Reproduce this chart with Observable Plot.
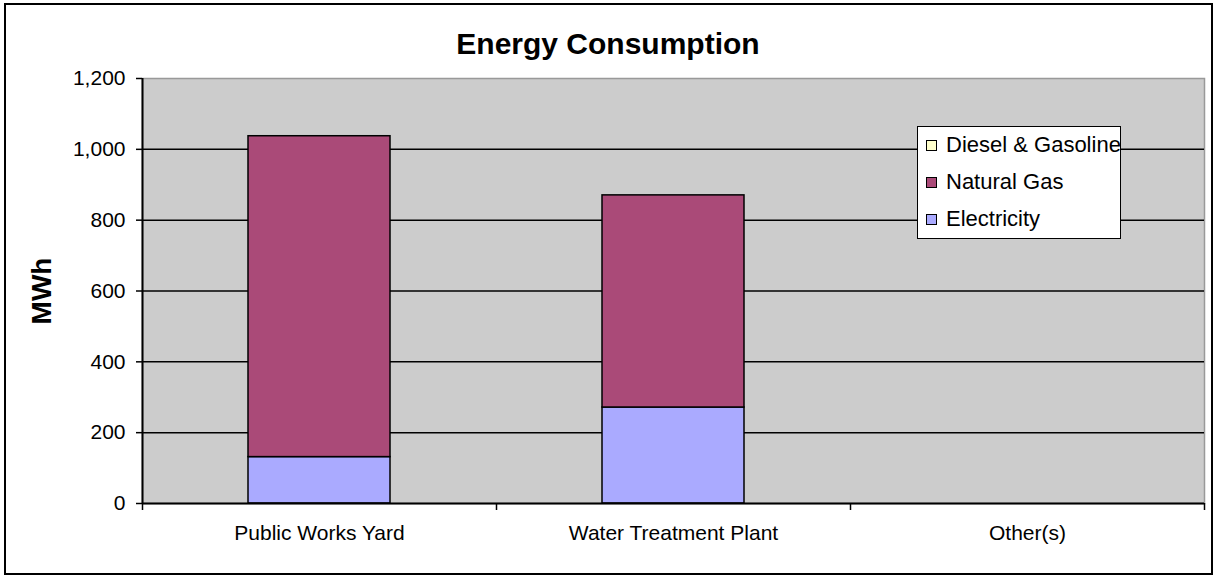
<!DOCTYPE html>
<html>
<head>
<meta charset="utf-8">
<script src="https://cdn.jsdelivr.net/npm/d3@7"></script>
<script src="https://cdn.jsdelivr.net/npm/@observablehq/plot@0.6"></script>
<style>
  html, body { margin: 0; padding: 0; background: #fff; }
  #wrap { position: relative; width: 1215px; height: 577px; overflow: hidden; font-family: "Liberation Sans", Arial, sans-serif; }
  #border { position: absolute; left: 4px; top: 3px; right: 2px; bottom: 2px; border: 2px solid #000; pointer-events: none; }
  #legend { position: absolute; left: 917px; top: 126px; width: 204px; height: 113px; background: #fff; border: 1.5px solid #000; box-sizing: border-box; }
  .row { position: absolute; left: 8px; display: flex; align-items: center; font-size: 22px; color: #000; white-space: nowrap; }
  .sw { width: 9px; height: 9px; border: 1px solid #000; margin-right: 9px; }
</style>
</head>
<body>
<div id="wrap">
  <div id="chart"></div>
  <div id="legend"></div>
  <div id="border"></div>
</div>
<script>
const title = "Energy Consumption";
const yLabel = "MWh";
const categories = ["Public Works Yard", "Water Treatment Plant", "Other(s)"];
const seriesNames = ["Electricity", "Natural Gas", "Diesel & Gasoline"];
const electricity = [131, 271, 0];
const naturalGas = [906, 599, 0];
const dieselGasoline = [0, 0, 0];
const yTicks = [0, 200, 400, 600, 800, 1000, 1200];
const colors = ["#AAAAFF", "#AA4A78", "#FFFFCC"];
const legendOrder = ["Diesel & Gasoline", "Natural Gas", "Electricity"];

const seriesValues = [electricity, naturalGas, dieselGasoline];
const data = [];
seriesNames.forEach((s, si) => {
  categories.forEach((c, ci) => {
    data.push({category: c, series: s, value: seriesValues[si][ci]});
  });
});

const W = 1215, H = 577;
const mL = 142, mR = 11, mT = 78, mB = 74;
const plotW = W - mL - mR;
const plotH = H - mT - mB;
const pIn = 0.6, pOut = 0.3;
const step = plotW / (categories.length - pIn + 2 * pOut);

const chart = Plot.plot({
  width: W,
  height: H,
  marginLeft: mL,
  marginRight: mR,
  marginTop: mT,
  marginBottom: mB,
  style: {fontFamily: "'Liberation Sans', Arial, sans-serif", color: "#000", background: "transparent"},
  x: {domain: categories, paddingInner: pIn, paddingOuter: pOut, label: null},
  y: {domain: [0, 1200], label: null},
  color: {domain: seriesNames, range: colors},
  marks: [
    Plot.frame({fill: "#CCCCCC", stroke: "#999999", strokeWidth: 1.5}),
    Plot.ruleY(yTicks.filter(d => d > 0 && d < 1200), {stroke: "#000", strokeWidth: 1.5}),
    Plot.barY(data.filter(d => d.value > 0), {
      x: "category", y: "value", fill: "series", stroke: "#000", strokeWidth: 1.5, order: seriesNames
    }),
    Plot.ruleY([0], {stroke: "#000", strokeWidth: 2}),
    Plot.ruleX([categories[0]], {x: d => d, dx: -step / 2, stroke: "#000", strokeWidth: 2}),
    Plot.ruleX(categories, {x: d => d, dx: -step / 2, stroke: "#000", strokeWidth: 1.5, insetTop: plotH, insetBottom: -7}),
    Plot.ruleX([categories[categories.length - 1]], {x: d => d, dx: step / 2, stroke: "#000", strokeWidth: 1.5, insetTop: plotH, insetBottom: -7}),
    Plot.axisY({ticks: yTicks, tickFormat: d3.format(","), tickSize: 6, tickPadding: 11, fontSize: 21, label: null, stroke: "#000", strokeWidth: 1.5}),
    Plot.axisX({tickSize: 0, tickPadding: 22, fontSize: 21, label: null}),
    Plot.text([title], {frameAnchor: "top", lineAnchor: "middle", textAnchor: "middle", dx: (W / 2) - (mL + plotW / 2), dy: -34, fontSize: 30, fontWeight: "bold", fill: "#000"}),
    Plot.text([yLabel], {frameAnchor: "left", lineAnchor: "middle", textAnchor: "middle", dx: -100, rotate: -90, fontSize: 28, fontWeight: "bold", fill: "#000"})
  ]
});
document.getElementById("chart").appendChild(chart);

const legend = document.getElementById("legend");
legendOrder.forEach((name, i) => {
  const row = document.createElement("div");
  row.className = "row";
  row.style.top = (5 + i * 37) + "px";
  const sw = document.createElement("div");
  sw.className = "sw";
  sw.style.background = colors[seriesNames.indexOf(name)];
  const label = document.createElement("span");
  label.textContent = name;
  row.appendChild(sw);
  row.appendChild(label);
  legend.appendChild(row);
});
</script>
</body>
</html>
